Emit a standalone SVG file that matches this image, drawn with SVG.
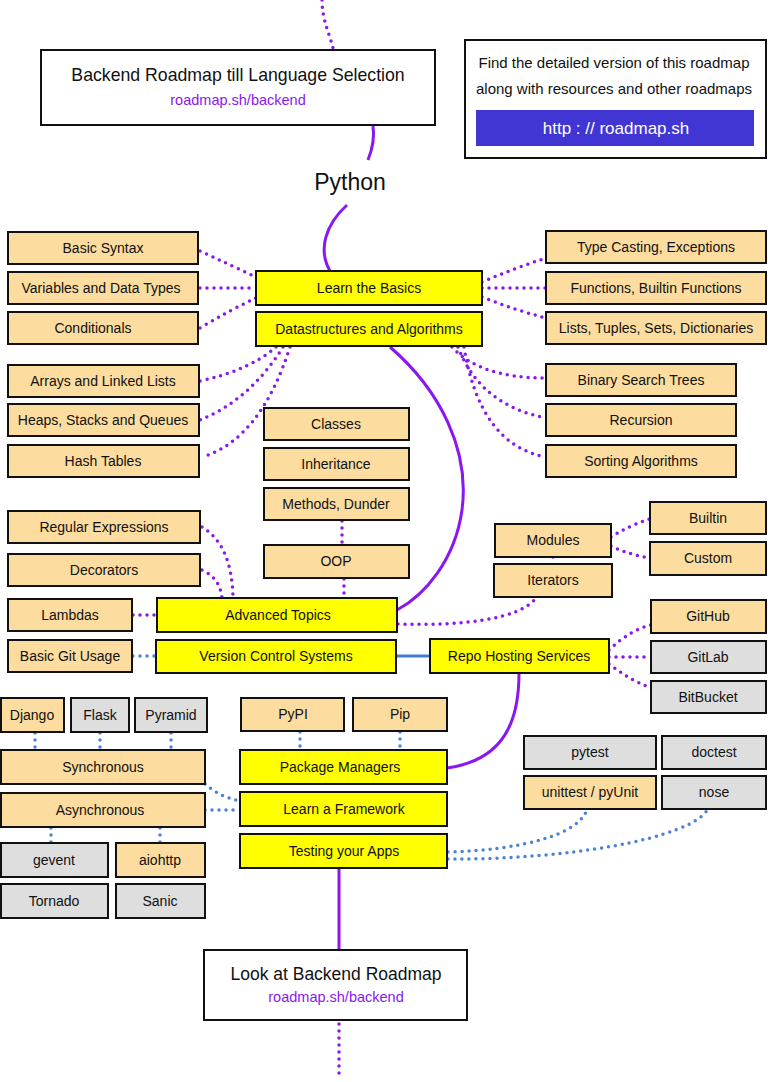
<svg xmlns="http://www.w3.org/2000/svg" width="768" height="1082" viewBox="0 0 768 1082">
<defs>
<style>
text{font-family:"Liberation Sans","Noto Sans",sans-serif;fill:#111;text-anchor:middle;dominant-baseline:central}
.n rect{stroke:#111;stroke-width:2}
.o rect{fill:#fcdd9f}
.y rect{fill:#ffff00}
.g rect{fill:#dedede}
.w rect{fill:#fff}
.lbl{font-size:14px}
.ps{fill:none;stroke:#8a17f0;stroke-width:3}
.pd{fill:none;stroke:#8a17f0;stroke-width:3.5;stroke-dasharray:0 7;stroke-linecap:round}
.bd{fill:none;stroke:#4a84d6;stroke-width:3.5;stroke-dasharray:0 7;stroke-linecap:round}
.bs{fill:none;stroke:#3d7fd6;stroke-width:3}
.link{fill:#8a17f0;font-size:14.5px}
</style>
</defs>
<rect width="768" height="1082" fill="#fff"/>
<g id="connectors">
<path class="pd" d="M322,0 C322,20 330,35 333,48"/>
<path class="ps" d="M373,126 C375,140 372,150 368,160"/>
<path class="ps" d="M347,205 C325,225 318,250 330,271"/>
<path class="pd" d="M200,251 Q230,265 256,277"/>
<path class="pd" d="M200,288 L256,288"/>
<path class="pd" d="M200,328 Q230,310 256,298"/>
<path class="pd" d="M482,282 Q515,268 546,258"/>
<path class="pd" d="M482,288 L546,288"/>
<path class="pd" d="M482,297 Q515,310 546,318"/>
<path class="pd" d="M276,347 Q250,370 200,381"/>
<path class="pd" d="M283,347 Q250,400 200,420"/>
<path class="pd" d="M290,347 Q260,440 202,457"/>
<path class="pd" d="M452,347 Q480,378 546,378"/>
<path class="pd" d="M458,347 Q480,405 546,418"/>
<path class="pd" d="M464,347 Q480,445 546,457"/>
<path class="ps" d="M390,347 C440,390 470,450 462,510 C455,560 425,595 397,610"/>
<path class="pd" d="M342,521 L342,544"/>
<path class="pd" d="M344,579 L344,598"/>
<path class="pd" d="M202,527 Q232,545 233,598"/>
<path class="pd" d="M202,570 Q220,578 222,598"/>
<path class="pd" d="M133,615 L157,615"/>
<path class="pd" d="M398,624 C460,626 520,620 537,597"/>
<path class="pd" d="M553,557 L553,564"/>
<path class="pd" d="M611,537 Q630,525 650,519"/>
<path class="pd" d="M611,546 Q630,555 650,558"/>
<path class="pd" d="M609,650 Q630,630 651,625"/>
<path class="pd" d="M609,657 L651,657"/>
<path class="pd" d="M609,664 Q630,680 651,688"/>
<path class="bs" d="M396,656 L430,656"/>
<path class="bd" d="M133,656 L156,656"/>
<path class="ps" d="M519,673 C519,720 505,760 447,768"/>
<path class="bd" d="M35,733 L35,750"/>
<path class="bd" d="M100,733 L100,750"/>
<path class="bd" d="M171,733 L171,750"/>
<path class="bd" d="M51,828 L51,843"/>
<path class="bd" d="M160,828 L160,843"/>
<path class="bd" d="M205,784 Q220,797 240,801"/>
<path class="bd" d="M205,810 L240,810"/>
<path class="bd" d="M300,732 L300,750"/>
<path class="bd" d="M400,732 L400,750"/>
<path class="bd" d="M448,852 C520,850 580,835 587,809"/>
<path class="bd" d="M448,859 C560,860 690,840 708,809"/>
<path class="ps" d="M339,868 L339,950"/>
<path class="pd" d="M339,1024 L339,1080"/>
</g>
<g id="n-title" class="n w"><rect x="41" y="50" width="394" height="75"/><text x="238" y="75" style="font-size:17.7px">Backend Roadmap till Language Selection</text><text class="link" x="238" y="100">roadmap.sh/backend</text></g>
<g id="n-info" class="n w"><rect x="465" y="40" width="301" height="118"/><text x="614" y="62" style="font-size:15px">Find the detailed version of this roadmap</text><text x="614" y="88" style="font-size:15px">along with resources and other roadmaps</text><rect x="476" y="110" width="278" height="36" style="fill:#4136d4;stroke:none"/><text x="616" y="128" style="font-size:17px;fill:#fff">http : // roadmap.sh</text></g>
<g id="n-python"><text x="350" y="182" style="font-size:23px">Python</text></g>
<g id="n-basics" class="n y"><rect x="256" y="271" width="226" height="34"/><text class="lbl" x="369" y="288">Learn the Basics</text></g>
<g id="n-ds" class="n y"><rect x="256" y="312" width="226" height="34"/><text class="lbl" x="369" y="329">Datastructures and Algorithms</text></g>
<g id="n-syntax" class="n o"><rect x="8" y="232" width="190" height="32"/><text class="lbl" x="103" y="248">Basic Syntax</text></g>
<g id="n-vars" class="n o"><rect x="8" y="272" width="190" height="32"/><text class="lbl" x="101" y="288">Variables and Data Types</text></g>
<g id="n-cond" class="n o"><rect x="8" y="312" width="190" height="32"/><text class="lbl" x="93" y="328">Conditionals</text></g>
<g id="n-arrays" class="n o"><rect x="8" y="365" width="191" height="32"/><text class="lbl" x="103" y="381">Arrays and Linked Lists</text></g>
<g id="n-heaps" class="n o"><rect x="8" y="404" width="191" height="32"/><text class="lbl" x="103" y="420">Heaps, Stacks and Queues</text></g>
<g id="n-hash" class="n o"><rect x="8" y="445" width="191" height="32"/><text class="lbl" x="103" y="461">Hash Tables</text></g>
<g id="n-types" class="n o"><rect x="546" y="231" width="220" height="32"/><text class="lbl" x="656" y="247">Type Casting, Exceptions</text></g>
<g id="n-funcs" class="n o"><rect x="546" y="272" width="220" height="32"/><text class="lbl" x="656" y="288">Functions, Builtin Functions</text></g>
<g id="n-lists" class="n o"><rect x="546" y="312" width="220" height="32"/><text class="lbl" x="656" y="328">Lists, Tuples, Sets, Dictionaries</text></g>
<g id="n-bst" class="n o"><rect x="546" y="364" width="190" height="32"/><text class="lbl" x="641" y="380">Binary Search Trees</text></g>
<g id="n-rec" class="n o"><rect x="546" y="404" width="190" height="32"/><text class="lbl" x="641" y="420">Recursion</text></g>
<g id="n-sort" class="n o"><rect x="546" y="445" width="190" height="32"/><text class="lbl" x="641" y="461">Sorting Algorithms</text></g>
<g id="n-classes" class="n o"><rect x="264" y="408" width="145" height="32"/><text class="lbl" x="336" y="424">Classes</text></g>
<g id="n-inherit" class="n o"><rect x="264" y="448" width="145" height="32"/><text class="lbl" x="336" y="464">Inheritance</text></g>
<g id="n-methods" class="n o"><rect x="264" y="488" width="145" height="32"/><text class="lbl" x="336" y="504">Methods, Dunder</text></g>
<g id="n-oop" class="n o"><rect x="264" y="545" width="145" height="33"/><text class="lbl" x="336" y="561">OOP</text></g>
<g id="n-regex" class="n o"><rect x="8" y="511" width="192" height="32"/><text class="lbl" x="104" y="527">Regular Expressions</text></g>
<g id="n-deco" class="n o"><rect x="8" y="554" width="192" height="32"/><text class="lbl" x="104" y="570">Decorators</text></g>
<g id="n-lambda" class="n o"><rect x="8" y="599" width="124" height="32"/><text class="lbl" x="70" y="615">Lambdas</text></g>
<g id="n-git" class="n o"><rect x="8" y="640" width="124" height="32"/><text class="lbl" x="70" y="656">Basic Git Usage</text></g>
<g id="n-adv" class="n y"><rect x="157" y="598" width="240" height="34"/><text class="lbl" x="278" y="615">Advanced Topics</text></g>
<g id="n-vcs" class="n y"><rect x="156" y="640" width="240" height="33"/><text class="lbl" x="276" y="656">Version Control Systems</text></g>
<g id="n-modules" class="n o"><rect x="495" y="524" width="116" height="33"/><text class="lbl" x="553" y="540">Modules</text></g>
<g id="n-iter" class="n o"><rect x="494" y="564" width="118" height="33"/><text class="lbl" x="553" y="580">Iterators</text></g>
<g id="n-builtin" class="n o"><rect x="650" y="502" width="116" height="32"/><text class="lbl" x="708" y="518">Builtin</text></g>
<g id="n-custom" class="n o"><rect x="650" y="542" width="116" height="33"/><text class="lbl" x="708" y="558">Custom</text></g>
<g id="n-repo" class="n y"><rect x="430" y="639" width="179" height="34"/><text class="lbl" x="519" y="656">Repo Hosting Services</text></g>
<g id="n-github" class="n o"><rect x="651" y="600" width="115" height="33"/><text class="lbl" x="708" y="616">GitHub</text></g>
<g id="n-gitlab" class="n g"><rect x="651" y="641" width="115" height="32"/><text class="lbl" x="708" y="657">GitLab</text></g>
<g id="n-bitbucket" class="n g"><rect x="651" y="681" width="115" height="32"/><text class="lbl" x="708" y="697">BitBucket</text></g>
<g id="n-django" class="n o"><rect x="1" y="698" width="63" height="34"/><text class="lbl" x="32" y="715">Django</text></g>
<g id="n-flask" class="n g"><rect x="71" y="698" width="58" height="34"/><text class="lbl" x="100" y="715">Flask</text></g>
<g id="n-pyramid" class="n g"><rect x="135" y="698" width="72" height="34"/><text class="lbl" x="171" y="715">Pyramid</text></g>
<g id="n-sync" class="n o"><rect x="1" y="750" width="204" height="34"/><text class="lbl" x="103" y="767">Synchronous</text></g>
<g id="n-async" class="n o"><rect x="1" y="793" width="204" height="34"/><text class="lbl" x="100" y="810">Asynchronous</text></g>
<g id="n-gevent" class="n g"><rect x="1" y="843" width="107" height="34"/><text class="lbl" x="54" y="860">gevent</text></g>
<g id="n-aiohttp" class="n o"><rect x="116" y="843" width="89" height="34"/><text class="lbl" x="160" y="860">aiohttp</text></g>
<g id="n-tornado" class="n g"><rect x="1" y="884" width="107" height="34"/><text class="lbl" x="54" y="901">Tornado</text></g>
<g id="n-sanic" class="n g"><rect x="116" y="884" width="89" height="34"/><text class="lbl" x="160" y="901">Sanic</text></g>
<g id="n-pypi" class="n o"><rect x="241" y="698" width="103" height="33"/><text class="lbl" x="293" y="714">PyPI</text></g>
<g id="n-pip" class="n o"><rect x="353" y="698" width="94" height="33"/><text class="lbl" x="400" y="714">Pip</text></g>
<g id="n-pm" class="n y"><rect x="240" y="750" width="207" height="34"/><text class="lbl" x="340" y="767">Package Managers</text></g>
<g id="n-fw" class="n y"><rect x="240" y="792" width="207" height="34"/><text class="lbl" x="344" y="809">Learn a Framework</text></g>
<g id="n-test" class="n y"><rect x="240" y="834" width="207" height="34"/><text class="lbl" x="344" y="851">Testing your Apps</text></g>
<g id="n-pytest" class="n g"><rect x="524" y="736" width="132" height="33"/><text class="lbl" x="590" y="752">pytest</text></g>
<g id="n-doctest" class="n g"><rect x="662" y="736" width="104" height="33"/><text class="lbl" x="714" y="752">doctest</text></g>
<g id="n-unittest" class="n o"><rect x="524" y="776" width="132" height="33"/><text class="lbl" x="590" y="792">unittest / pyUnit</text></g>
<g id="n-nose" class="n g"><rect x="662" y="776" width="104" height="33"/><text class="lbl" x="714" y="792">nose</text></g>
<g id="n-backend" class="n w"><rect x="204" y="950" width="263" height="70"/><text x="336" y="974" style="font-size:17.5px">Look at Backend Roadmap</text><text class="link" x="336" y="997">roadmap.sh/backend</text></g>
</svg>
